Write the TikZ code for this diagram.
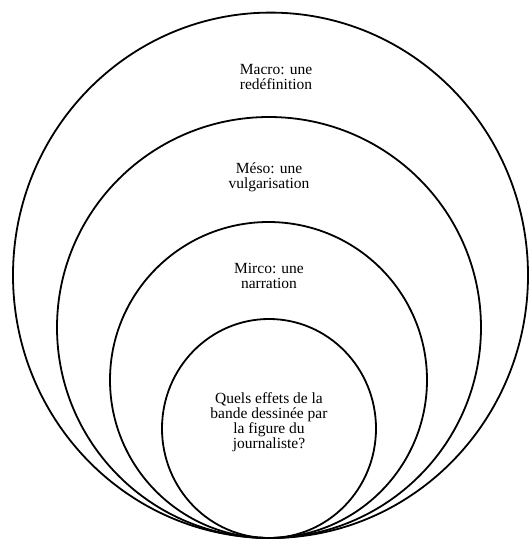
\documentclass[tikz,border=0pt]{standalone}
\usepackage{fontspec}
\setmainfont{Liberation Serif}
\begin{document}
\begin{tikzpicture}[x=1pt, y=-1pt, line width=1.8pt,
		lbl/.style={align=center, inner sep=0pt, font=\fontsize{15.5}{15}\selectfont}]
			\useasboundingbox (0,0) rectangle (529,541);
			%rings, all touching at the bottom
			\draw (270.5, 275.3) ellipse (257.5pt and 262.7pt);
			\draw (269, 327.5) ellipse (212pt and 210.5pt);
			\draw (268.5, 380) ellipse (158.5pt and 158pt);
			\draw (269, 428.5) ellipse (107pt and 109.5pt);
			
			\node[lbl] (macro) at (276, 77){Macro: une\\redéfinition};
			\node[lbl] (meso) at (269, 177){Méso: une\\vulgarisation};
			\node[lbl] (micro) at (269, 276){Mirco: une\\narration};
			\node[lbl] (question) at (269, 422){Quels effets de la\\bande dessinée par\\la figure du\\journaliste?};
		\end{tikzpicture}
\end{document}
